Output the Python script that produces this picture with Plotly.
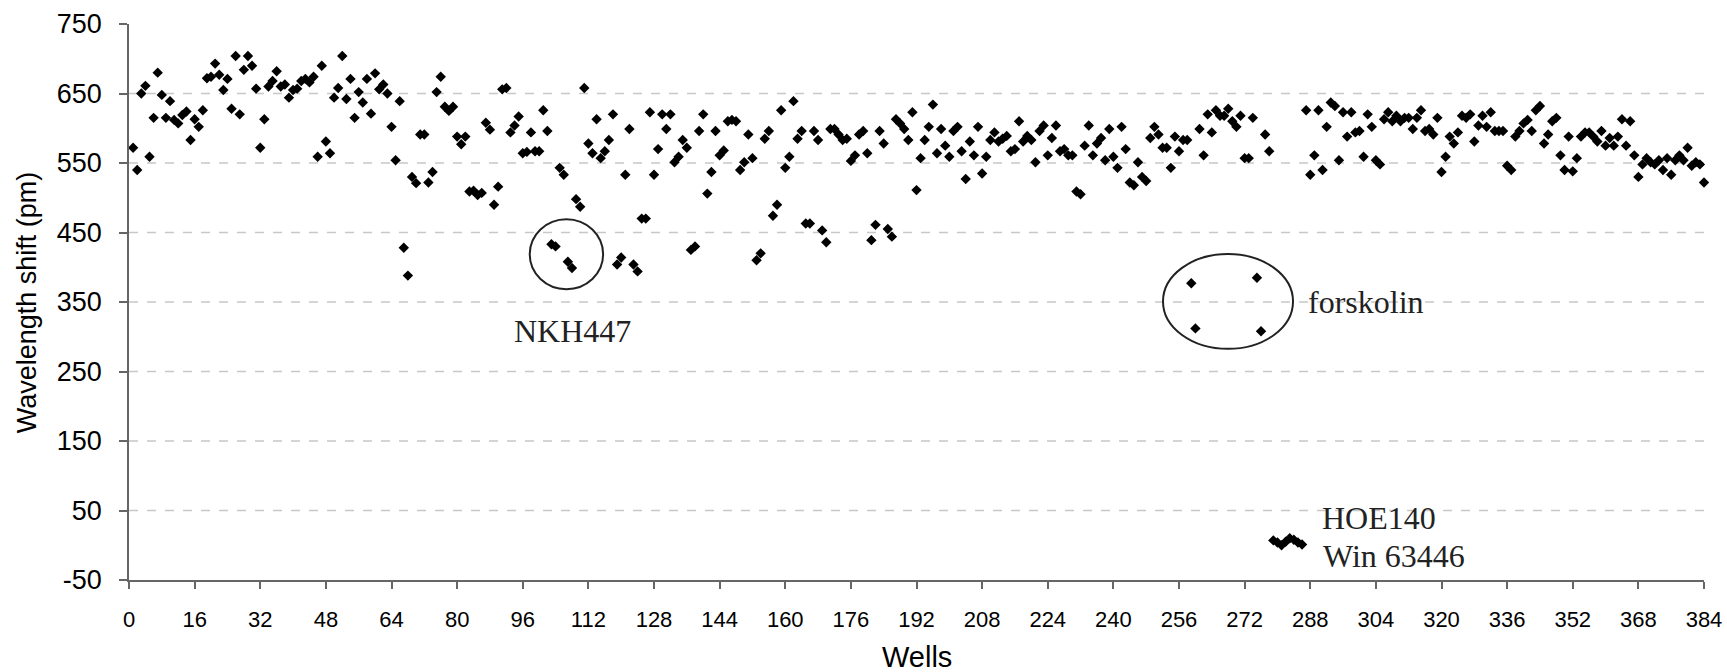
import plotly.graph_objects as go

# ---- data ----
wells_a = list(range(1, 50))
shift_a = [572, 540, 650, 661, 559, 615, 680, 648, 615, 639, 612, 607, 619, 624, 583, 613,
           602, 626, 672, 674, 693, 677, 655, 671, 628, 704, 620, 684, 704, 690, 657, 572,
           613, 660, 668, 682, 660, 663, 644, 655, 657, 668, 671, 666, 674, 559, 690, 581, 564]

wells_b = list(range(50, 99))
shift_b = [644, 658, 704, 642, 671, 615, 652, 637, 671, 621, 679, 656, 663, 650, 602, 554,
           639, 428, 388, 530, 521, 591, 591, 522, 537, 652, 674, 631, 625, 631, 588, 577,
           588, 509, 510, 504, 507, 608, 598, 490, 516, 656, 658, 594, 604, 617, 564, 566, 594]

wells_c = list(range(99, 147))
shift_c = [567, 567, 626, 596, 433, 430, 543, 533, 408, 399, 498, 487, 658, 578, 564, 613,
           557, 567, 583, 620, 404, 414, 533, 599, 404, 394, 470, 470, 623, 533, 570, 620,
           599, 620, 551, 559, 583, 572, 425, 430, 596, 620, 506, 537, 596, 561, 568, 610]

wells_d = list(range(147, 197))
shift_d = [612, 610, 540, 551, 591, 557, 410, 420, 585, 596, 474, 490, 626, 543, 559, 639,
           585, 596, 463, 463, 596, 583, 453, 436, 599, 599, 591, 583, 585, 553, 561, 591,
           596, 564, 439, 461, 596, 578, 455, 444, 613, 607, 599, 583, 623, 511, 557, 583,
           602, 634]

wells_e = list(range(197, 245))
shift_e = [564, 599, 575, 559, 596, 602, 567, 527, 581, 561, 602, 535, 559, 583, 594, 581,
           585, 589, 567, 570, 610, 581, 589, 583, 551, 596, 604, 561, 586, 604, 567, 570,
           561, 561, 509, 505, 575, 604, 561, 578, 586, 554, 599, 559, 543, 602, 570, 522]

wells_f = list(range(245, 294))
shift_f = [518, 551, 530, 524, 586, 602, 591, 572, 572, 543, 588, 567, 583, 583, 377, 312,
           599, 561, 620, 594, 626, 618, 618, 628, 610, 602, 618, 557, 557, 615, 385, 308,
           591, 567, 7, 4, 0, 5, 10, 8, 4, 1, 626, 533, 561, 626, 540, 602, 637]

wells_g = list(range(294, 343))
shift_g = [632, 554, 623, 588, 623, 594, 596, 559, 620, 602, 554, 548, 613, 623, 610, 618,
           610, 615, 615, 599, 615, 626, 596, 599, 591, 615, 537, 559, 588, 578, 594, 618,
           615, 620, 581, 604, 618, 602, 623, 596, 596, 596, 546, 540, 588, 596, 607, 612, 596]

wells_h = list(range(343, 385))
shift_h = [626, 632, 578, 591, 610, 615, 561, 540, 588, 538, 557, 588, 594, 594, 588, 581,
           596, 575, 586, 575, 588, 613, 575, 610, 561, 530, 548, 557, 551, 548, 554, 540,
           557, 533, 554, 561, 554, 572, 546, 551, 548, 522]

wells = wells_a + wells_b + wells_c + wells_d + wells_e + wells_f + wells_g + wells_h
shift = shift_a + shift_b + shift_c + shift_d + shift_e + shift_f + shift_g + shift_h

x_ticks = list(range(0, 385, 16))
y_ticks = list(range(-50, 751, 100))

SERIF = "Liberation Serif, Times New Roman, serif"
SANS = "Liberation Sans, Arial, sans-serif"

fig = go.Figure()
fig.add_trace(go.Scatter(
    x=wells, y=shift, mode="markers",
    marker=dict(symbol="diamond", size=8, color="black", line=dict(width=0)),
    cliponaxis=False, hoverinfo="x+y", showlegend=False,
))

ANN_FONT = dict(family=SERIF, size=32, color="#222")

fig.update_layout(
    width=1727, height=672,
    margin=dict(l=129, r=23, t=24, b=92, autoexpand=False),
    paper_bgcolor="white", plot_bgcolor="white",
    xaxis=dict(
        range=[0, 384], tickmode="array", tickvals=x_ticks,
        ticktext=[str(v) for v in x_ticks], automargin=False,
        showgrid=False, zeroline=False, showline=True, linecolor="#666", linewidth=1.5,
        ticks="outside", ticklen=7, tickcolor="#666", tickwidth=1.5,
        ticklabelstandoff=12,
        tickfont=dict(family=SANS, size=22, color="black"),
    ),
    yaxis=dict(
        range=[-50, 750], tickmode="array", tickvals=y_ticks,
        ticktext=[str(v) for v in y_ticks], automargin=False,
        showgrid=False, zeroline=False, showline=True, linecolor="#666", linewidth=1.5,
        ticks="outside", ticklen=8, tickcolor="#666", tickwidth=1.5,
        ticklabelstandoff=12,
        tickfont=dict(family=SANS, size=27, color="black"),
    ),
    shapes=[
        dict(type="circle", xref="x", yref="y", x0=97.7, x1=115.6, y0=368.4, y1=469,
             line=dict(color="#222", width=2)),
        dict(type="circle", xref="x", yref="y", x0=252.1, x1=283.8, y0=282.6, y1=419.1,
             line=dict(color="#222", width=2)),
    ],
    annotations=[
        dict(text="NKH447", x=93.3, y=308.5, xref="x", yref="y", xanchor="left",
             yanchor="middle", showarrow=False, font=ANN_FONT),
        dict(text="forskolin", x=286.9, y=350.6, xref="x", yref="y", xanchor="left",
             yanchor="middle", showarrow=False, font=ANN_FONT),
        dict(text="HOE140", x=290.3, y=39.4, xref="x", yref="y", xanchor="left",
             yanchor="middle", showarrow=False, font=ANN_FONT),
        dict(text="Win 63446", x=290.5, y=-15.2, xref="x", yref="y", xanchor="left",
             yanchor="middle", showarrow=False, font=ANN_FONT),
        # axis titles
        dict(text="Wavelength shift (pm)", xref="paper", yref="paper",
             x=-0.0646, y=0.5, xanchor="center", yanchor="middle", textangle=-90,
             showarrow=False, font=dict(family=SANS, size=27, color="black")),
        dict(text="Wells", xref="paper", yref="paper",
             x=0.5, y=-0.138, xanchor="center", yanchor="middle",
             showarrow=False, font=dict(family=SANS, size=29, color="black")),
    ],
)

# dashed gridlines only at the inner ticks (none at 750 / -50)
for v in y_ticks[1:-1]:
    fig.add_hline(y=v, line=dict(color="#c8c8c8", width=1.3, dash="dash"), layer="below")

# remove the default page margin so the figure fills the window exactly
fig.write_html(
    "out.html",
    config={"displayModeBar": False},
    post_script="document.body.style.margin='0';document.body.style.overflow='hidden';",
)
